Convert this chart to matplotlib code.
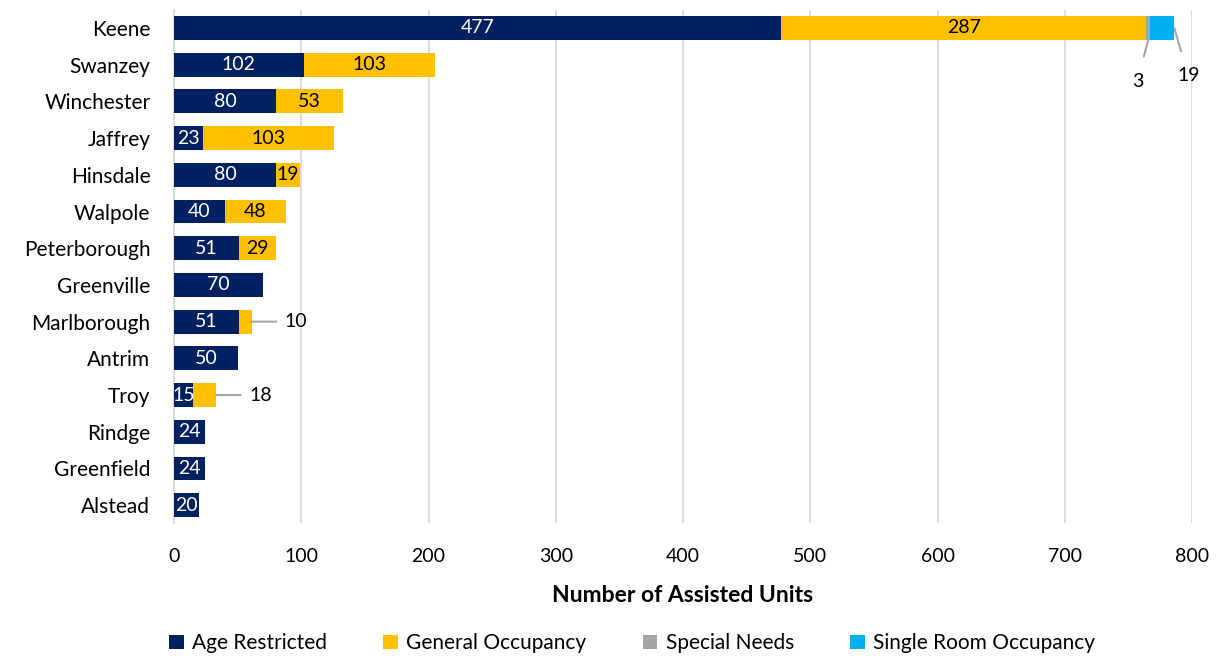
import numpy as np
import matplotlib.pyplot as plt

plt.rcParams['font.family'] = ['Lato', 'DejaVu Sans']

towns = ['Keene', 'Swanzey', 'Winchester', 'Jaffrey', 'Hinsdale', 'Walpole',
         'Peterborough', 'Greenville', 'Marlborough', 'Antrim', 'Troy',
         'Rindge', 'Greenfield', 'Alstead']
age_restricted = [477, 102, 80, 23, 80, 40, 51, 70, 51, 50, 15, 24, 24, 20]
general_occupancy = [287, 103, 53, 103, 19, 48, 29, 0, 10, 0, 18, 0, 0, 0]
special_needs = [3, 0, 0, 0, 0, 0, 0, 0, 0, 0, 0, 0, 0, 0]
single_room = [19, 0, 0, 0, 0, 0, 0, 0, 0, 0, 0, 0, 0, 0]

series = [
    ('Age Restricted', age_restricted, '#002060', 'white'),
    ('General Occupancy', general_occupancy, '#FFC000', 'black'),
    ('Special Needs', special_needs, '#A5A5A5', 'black'),
    ('Single Room Occupancy', single_room, '#00B0F0', 'black'),
]

fig = plt.figure(figsize=(12.21, 6.56), dpi=100)
ax = fig.add_axes([0.1425, 0.202, 0.8338, 0.7833])

y = np.arange(len(towns))
left = np.zeros(len(towns))
callouts = []
for name, vals, color, txt in series:
    vals = np.array(vals, dtype=float)
    ax.barh(y, vals, left=left, height=0.65, color=color, label=name, zorder=3)
    for i, v in enumerate(vals):
        if v <= 0:
            continue
        # narrow segments get a leader line instead of an inside label
        if v < 19 and name != 'Age Restricted' or name == 'Single Room Occupancy':
            callouts.append((name, i, left[i], v))
        else:
            ax.text(left[i] + v / 2, y[i], f'{int(v)}', ha='center', va='center',
                    color=txt, fontsize=14, zorder=4)
    left += vals

leader = dict(arrowstyle='-', color='#A5A5A5', lw=1.5, shrinkB=0)
for name, i, l, v in callouts:
    end = l + v
    if name == 'Special Needs':
        ax.annotate(f'{int(v)}', xy=(l + v / 2, y[i] + 0.33), xytext=(l - 7, y[i] + 1.45),
                    ha='center', va='center', fontsize=14,
                    arrowprops=dict(leader, shrinkA=10))
    elif name == 'Single Room Occupancy':
        ax.annotate(f'{int(v)}', xy=(end, y[i]), xytext=(end + 11, y[i] + 1.3),
                    ha='center', va='center', fontsize=14,
                    arrowprops=dict(leader, shrinkA=10))
    else:
        ax.annotate(f'{int(v)}', xy=(end, y[i]), xytext=(end + 26, y[i]),
                    ha='left', va='center', fontsize=14,
                    arrowprops=dict(leader, shrinkA=4))

ax.set_yticks(y)
ax.set_yticklabels(towns, fontsize=15)
ax.set_ylim(len(towns) - 0.5, -0.5)
ax.set_xlim(0, 800)
ax.set_xticks(range(0, 801, 100))
ax.tick_params(axis='x', labelsize=14, length=0, pad=18)
ax.tick_params(axis='y', length=0, pad=17)
ax.xaxis.grid(True, color='#D9D9D9', lw=1.3, zorder=0)
for s in ['top', 'right', 'bottom']:
    ax.spines[s].set_visible(False)
ax.spines['left'].set_color('#D9D9D9')
ax.spines['left'].set_linewidth(1.3)

ax.set_xlabel('Number of Assisted Units', fontsize=16.5, fontweight='bold', labelpad=14)

ax.legend(loc='center', bbox_to_anchor=(0.45, -0.233), ncol=4, frameon=False,
          fontsize=15, handlelength=0.7, handleheight=0.7, columnspacing=2.7, handletextpad=0.4)

fig.savefig('out.png', dpi=100)
